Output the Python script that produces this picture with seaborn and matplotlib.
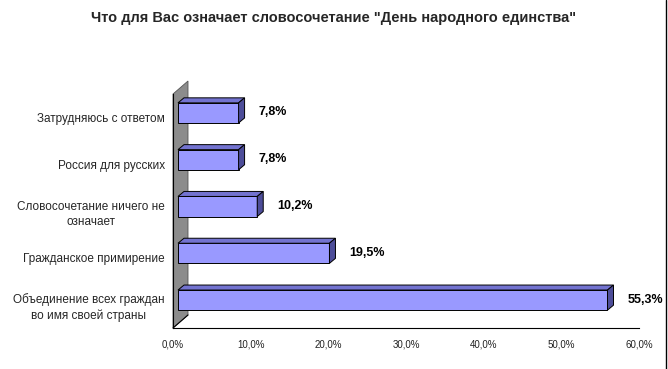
import numpy as np
import pandas as pd
import matplotlib
matplotlib.use("Agg")
import matplotlib.pyplot as plt
import matplotlib.transforms as mtransforms
from matplotlib.patches import Polygon
from matplotlib.lines import Line2D
import seaborn as sns

# data
categories = ['Затрудняюсь с ответом', 'Россия для русских',
              'Словосочетание ничего не\nозначает', 'Гражданское примирение',
              'Объединение всех граждан\nво имя своей страны']
values = [7.8, 7.8, 10.2, 19.5, 55.3]
xticks = [0, 10, 20, 30, 40, 50, 60]
title = 'Что для Вас означает словосочетание "День народного единства"'

sns.set_style('white')
plt.rcParams['font.family'] = ['Liberation Sans', 'DejaVu Sans']

df = pd.DataFrame({'cat': categories, 'val': values})

W, H = 668, 369
fig = plt.figure(figsize=(W / 100, H / 100), dpi=100)
ax_l, ax_r, ax_b, ax_t = 173, 639, 328, 94
ax = fig.add_axes([ax_l / W, 1 - ax_b / H, (ax_r - ax_l) / W, (ax_b - ax_t) / H])

sns.barplot(data=df, x='val', y='cat', orient='h', width=0.43, color='#9999FF',
            saturation=1, edgecolor='black', linewidth=0.7, ax=ax, zorder=3)

ax.set_xlim(0, 60)
ax.set_ylim(4.5, -0.5)

# pixel -> data units
px = 60 / (ax_r - ax_l)
py = 5 / (ax_b - ax_t)

# 3d look: shift front faces, add top and side faces
shift = ax.transData + mtransforms.ScaledTranslation(5 / 100, 4.5 / 100, fig.dpi_scale_trans)
ddx, ddy = 6 * px, 5 * py
for p in ax.patches:
    p.set_transform(shift)
    x0, y0, w, h = p.get_x(), p.get_y(), p.get_width(), p.get_height()
    top = Polygon([(x0, y0), (x0 + w, y0), (x0 + w + ddx, y0 - ddy), (x0 + ddx, y0 - ddy)],
                  closed=True, facecolor='#7373D0', edgecolor='black', lw=0.7,
                  transform=shift, zorder=3, clip_on=False)
    side = Polygon([(x0 + w, y0), (x0 + w, y0 + h), (x0 + w + ddx, y0 + h - ddy), (x0 + w + ddx, y0 - ddy)],
                   closed=True, facecolor='#4D4D99', edgecolor='black', lw=0.7,
                   transform=shift, zorder=3, clip_on=False)
    ax.add_patch(top)
    ax.add_patch(side)

# wall on the left
wx, wy = 15 * px, 13 * py
wall = Polygon([(0, 4.5), (0, -0.5), (wx, -0.5 - wy), (wx, 4.5 - wy)], closed=True,
               facecolor='#8C8C8C', edgecolor='#555555', lw=0.6, zorder=1, clip_on=False)
ax.add_patch(wall)
ax.plot([0, wx], [4.5, 4.5 - wy], color='black', lw=0.8, zorder=2, clip_on=False)

# value labels
for i, v in enumerate(values):
    ax.annotate(f'{v:.1f}%'.replace('.', ','), xy=(v, i), xytext=(18, 3.6),
                textcoords='offset points', ha='left', va='center',
                fontsize=9, fontweight='bold', color='black', annotation_clip=False)

ax.set_xticks(xticks)
ax.set_xticklabels([f'{t:.1f}%'.replace('.', ',') for t in xticks], fontsize=7, color='#222222')
ax.set_yticks(range(len(categories)))
ax.set_yticklabels(categories, fontsize=8.5)
for t in ax.get_yticklabels():
    t.set_multialignment('center')
    t.set_linespacing(1.35)
ax.set_yticks(np.arange(-0.5, 5, 1), minor=True)
ax.tick_params(axis='y', which='major', length=0, pad=6)
ax.tick_params(axis='y', which='minor', length=4, width=0.8, color='black', direction='out')
ax.tick_params(axis='x', length=4, width=0.8, color='black', direction='out', pad=4)
ax.set_xlabel('')
ax.set_ylabel('')

for s in ['top', 'right']:
    ax.spines[s].set_visible(False)
for s in ['left', 'bottom']:
    ax.spines[s].set_color('black')
    ax.spines[s].set_linewidth(0.8)
    ax.spines[s].set_zorder(2)
ax.set_facecolor('none')

fig.text(0.5, 1 - 18 / H, title, ha='center', va='center', fontsize=10.5, fontweight='bold')
fig.add_artist(Line2D([0.997, 0.997], [0, 1], color='black', lw=1, transform=fig.transFigure))

fig.savefig('out.png', dpi=100)
